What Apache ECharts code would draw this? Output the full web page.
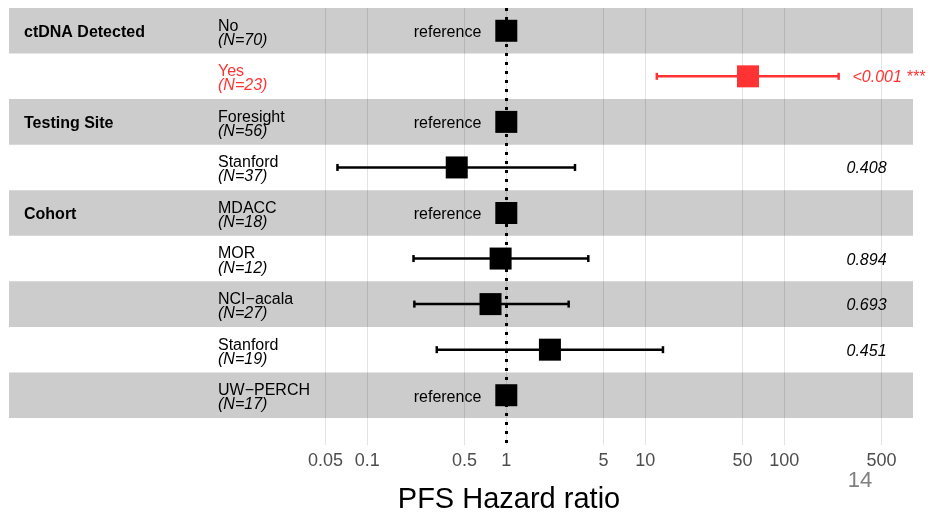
<!DOCTYPE html>
<html><head><meta charset="utf-8">
<script src="https://cdn.jsdelivr.net/npm/echarts@6/dist/echarts.min.js"></script>
<style>html,body{margin:0;padding:0;background:#fff}#c{width:928px;height:514px}</style>
</head><body><div id="c"></div>
<script>
// ---- data ----
const groups = ['ctDNA Detected', '', 'Testing Site', '', 'Cohort', '', '', '', ''];
const levels = ['No', 'Yes', 'Foresight', 'Stanford', 'MDACC', 'MOR', 'NCI\u2212acala', 'Stanford', 'UW\u2212PERCH'];
const counts = [70, 23, 56, 37, 18, 12, 27, 19, 17];
const hazardRatio = [1, 54.8, 1, 0.44, 1, 0.91, 0.77, 2.06, 1];
const ciLower = [null, 12.1, null, 0.061, null, 0.215, 0.218, 0.316, null];
const ciUpper = [null, 246, null, 3.12, null, 3.89, 2.81, 13.4, null];
const pValues = ['', '<0.001 ***', '', '0.408', '', '0.894', '0.693', '0.451', ''];
const isReference = [true, false, true, false, true, false, false, false, true];
const significant = [false, true, false, false, false, false, false, false, false];
const tickValues = [0.05, 0.1, 0.5, 1, 5, 10, 50, 100, 500];
const tickLabels = ['0.05', '0.1', '0.5', '1', '5', '10', '50', '100', '500'];
const axisTitle = 'PFS Hazard ratio';
const pageNumber = '14';

// ---- layout / style ----
const FONT = '"Liberation Sans", Arial, Helvetica, sans-serif';
const RED = '#ff3333';
const BAND = '#cccccc';
const GRID_TOP = 8, LEFT = 9, RIGHT = 15, PLOT_BOTTOM = 69;
const ROW_H = 410 / levels.length;
const plotH = 514 - GRID_TOP - PLOT_BOTTOM;
const yMax = -0.5 + plotH / ROW_H;
const PX_PER_DECADE = 139, X_ONE = 506.3;
const xMin = Math.pow(10, -(X_ONE - LEFT) / PX_PER_DECADE);
const xMax = Math.pow(10, (928 - RIGHT - X_ONE) / PX_PER_DECADE);
const rowIdx = levels.map((_, i) => String(i));
const colorOf = i => significant[i] ? RED : '#000';

const labelAxisBase = {
  gridIndex: 0, type: 'category', data: rowIdx, inverse: true, z: 10,
  axisLine: {show: false}, axisTick: {show: false}, splitLine: {show: false}
};

const bands = [];
levels.forEach((_, i) => { if (i % 2 === 0) bands.push([{yAxis: i - 0.5}, {yAxis: i + 0.5}]); });

const gridLines = tickValues.map((v, i) => [
  {coord: [v, -0.5], name: tickLabels[i]},
  {coord: [v, yMax]}
]);

const errData = [];
levels.forEach((_, i) => {
  if (ciLower[i] != null) errData.push({value: [ciLower[i], ciUpper[i], i], itemStyle: {color: colorOf(i)}});
});

const pointData = levels.map((_, i) => ({
  value: [hazardRatio[i], i],
  itemStyle: {color: colorOf(i), opacity: 1},
  label: {show: isReference[i]}
}));

const chart = echarts.init(document.getElementById('c'), null, {renderer: 'canvas'});
chart.setOption({
  animation: false,
  backgroundColor: '#fff',
  grid: [
    {left: LEFT, right: RIGHT, top: GRID_TOP, height: 410},
    {left: LEFT, right: RIGHT, top: GRID_TOP, bottom: PLOT_BOTTOM}
  ],
  xAxis: [
    {gridIndex: 0, type: 'value', min: 0, max: 1, show: false},
    {gridIndex: 1, type: 'log', logBase: 10, min: xMin, max: xMax, show: false}
  ],
  yAxis: [
    Object.assign({}, labelAxisBase, {
      position: 'left',
      axisLabel: {inside: true, margin: 15, align: 'left', interval: 0,
        formatter: (v, i) => groups[i] ? '{g|' + groups[i] + '}' : '',
        rich: {
          g: {fontFamily: FONT, fontSize: 16, fontWeight: 'bold', color: '#000', padding: [4, 0, 0, 0]}
        }}
    }),
    Object.assign({}, labelAxisBase, {
      position: 'left',
      axisLabel: {inside: true, margin: 209, align: 'left', interval: 0, padding: [5, 0, 0, 0],
        formatter: (v, i) => significant[i]
          ? '{nr|' + levels[i] + '}\n{ir|(N=' + counts[i] + ')}'
          : '{n|' + levels[i] + '}\n{i|(N=' + counts[i] + ')}',
        rich: {
          n: {fontFamily: FONT, fontSize: 16, lineHeight: 14, color: '#000'},
          i: {fontFamily: FONT, fontSize: 16, lineHeight: 14, color: '#000', fontStyle: 'italic'},
          nr: {fontFamily: FONT, fontSize: 16, lineHeight: 14, color: RED},
          ir: {fontFamily: FONT, fontSize: 16, lineHeight: 14, color: RED, fontStyle: 'italic'}
        }}
    }),
    Object.assign({}, labelAxisBase, {
      position: 'right',
      axisLabel: {inside: true, margin: 66, align: 'left', interval: 0, padding: [3, 0, 0, 0],
        formatter: (v, i) => pValues[i] ? (significant[i] ? '{pr|' + pValues[i] + '}' : '{p|' + pValues[i] + '}') : '',
        rich: {
          p: {fontFamily: FONT, fontSize: 16, fontStyle: 'italic', color: '#000'},
          pr: {fontFamily: FONT, fontSize: 16, fontStyle: 'italic', color: RED, padding: [0, 0, 0, 6]}
        }}
    }),
    {gridIndex: 1, type: 'value', inverse: true, min: -0.5, max: yMax, show: false}
  ],
  series: [
    {
      type: 'line', xAxisIndex: 1, yAxisIndex: 3, data: [[1, 0]], showSymbol: false, silent: true,
      lineStyle: {opacity: 0},
      markArea: {silent: true, z: 1, itemStyle: {color: BAND}, data: bands}
    },
    {
      type: 'line', xAxisIndex: 1, yAxisIndex: 3, data: [[1, 0]], showSymbol: false, silent: true,
      lineStyle: {opacity: 0},
      markLine: {silent: true, z: 2, symbol: ['none', 'none'], animation: false,
        lineStyle: {color: 'rgba(0,0,0,0.11)', width: 1, type: 'solid'},
        label: {show: true, position: 'end', formatter: '{b}', distance: 7,
          fontFamily: FONT, fontSize: 18, color: '#4d4d4d'},
        emphasis: {disabled: true},
        data: gridLines}
    },
    {
      type: 'line', xAxisIndex: 1, yAxisIndex: 3, data: [[1, 0]], showSymbol: false, silent: true,
      lineStyle: {opacity: 0},
      markLine: {silent: true, z: 3, symbol: ['none', 'none'], animation: false,
        lineStyle: {color: '#000', width: 3, type: [3, 6], cap: 'butt'},
        label: {show: false},
        emphasis: {disabled: true},
        data: [[{coord: [1, -0.5]}, {coord: [1, yMax]}]]}
    },
    {
      type: 'custom', xAxisIndex: 1, yAxisIndex: 3, z: 4, silent: true,
      encode: {x: [0, 1], y: 2},
      data: errData,
      renderItem: function (params, api) {
        const y = api.value(2);
        const p1 = api.coord([api.value(0), y]);
        const p2 = api.coord([api.value(1), y]);
        const c = api.visual('color');
        const st = {stroke: c, lineWidth: 2.5};
        return {type: 'group', children: [
          {type: 'line', shape: {x1: p1[0], y1: p1[1], x2: p2[0], y2: p2[1]}, style: st},
          {type: 'line', shape: {x1: p1[0], y1: p1[1] - 3.5, x2: p1[0], y2: p1[1] + 3.5}, style: st},
          {type: 'line', shape: {x1: p2[0], y1: p2[1] - 3.5, x2: p2[0], y2: p2[1] + 3.5}, style: st}
        ]};
      }
    },
    {
      type: 'scatter', xAxisIndex: 1, yAxisIndex: 3, z: 6, silent: true,
      symbol: 'rect', symbolSize: 22,
      itemStyle: {opacity: 1},
      label: {position: 'left', distance: 14, formatter: 'reference', offset: [0, 2],
        fontFamily: FONT, fontSize: 16, color: '#000'},
      data: pointData
    }
  ],
  graphic: [
    {type: 'text', x: 509, y: 500, z: 20,
      style: {text: axisTitle, font: '29px ' + FONT, fill: '#000', textAlign: 'center', textVerticalAlign: 'middle'}},
    {type: 'text', x: 860, y: 481, z: 20,
      style: {text: pageNumber, font: '22px ' + FONT, fill: '#808080', textAlign: 'center', textVerticalAlign: 'middle'}}
  ]
});
</script>
</body></html>
